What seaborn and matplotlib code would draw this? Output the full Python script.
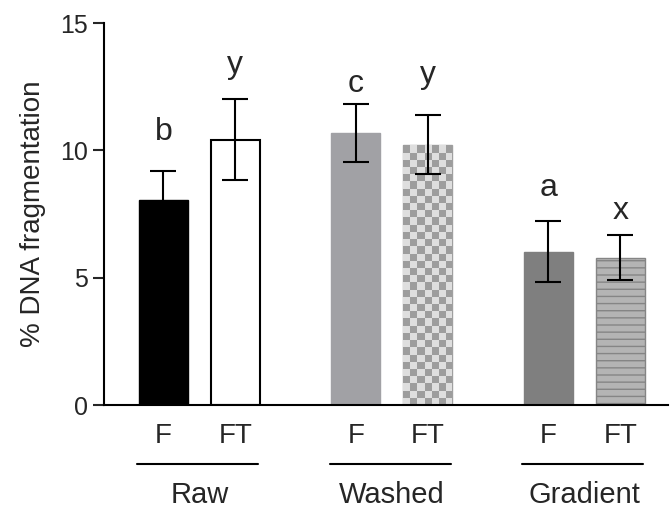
import warnings
import numpy as np
import pandas as pd
import matplotlib
matplotlib.use("Agg")
import matplotlib.pyplot as plt
import matplotlib.hatch as mhatch
import matplotlib.transforms as mtrans
from matplotlib.colors import ListedColormap
from matplotlib.path import Path
import seaborn as sns

warnings.filterwarnings("ignore")

groups = ["Raw", "Washed", "Gradient"]
treatments = ["F", "FT"]
means_f = [8.05, 10.68, 6.02]
means_ft = [10.42, 10.23, 5.79]
sem_f = [1.13, 1.15, 1.19]
sem_ft = [1.58, 1.17, 0.90]
letters_f = ["b", "c", "a"]
letters_ft = ["y", "y", "x"]
ylabel = "% DNA fragmentation"


# custom hatch 'h' = fine horizontal lines (14 per hatch cell)
class FineLines(mhatch.HatchPatternBase):
    def __init__(self, hatch, density):
        self.lines = 14 if "h" in hatch else 0
        self.num_vertices = 2 * self.lines

    def set_vertices_and_codes(self, vertices, codes):
        for i in range(self.lines):
            y = (i + 0.5) / self.lines
            vertices[2 * i:2 * i + 2] = [[0, y], [1, y]]
            codes[2 * i:2 * i + 2] = [Path.MOVETO, Path.LINETO]


mhatch._hatch_types.append(FineLines)

rows = []
for g, mf, mft in zip(groups, means_f, means_ft):
    rows.append({"group": g, "treatment": "F", "value": mf})
    rows.append({"group": g, "treatment": "FT", "value": mft})
df = pd.DataFrame(rows)

sns.set_style("ticks")
plt.rcParams["font.family"] = ["Liberation Sans", "DejaVu Sans"]

fig = plt.figure(figsize=(6.7, 5.13), dpi=100)
ax = fig.add_axes([0.1552, 0.2105, 0.8418, 0.7446])

sns.barplot(data=df, x="group", y="value", hue="treatment", order=groups,
            hue_order=treatments, width=0.748, gap=0.32, errorbar=None,
            legend=False, ax=ax)

styles = [
    dict(fc="black", ec="black", lw=1.0, hatch=None),
    dict(fc="white", ec="black", lw=1.5, hatch=None),
    dict(fc="#a1a1a5", ec="#a1a1a5", lw=1.0, hatch=None),
    dict(fc="#dedede", ec="#a0a0a0", lw=1.0, hatch="checker"),
    dict(fc="#7f7f7f", ec="#7f7f7f", lw=1.0, hatch=None),
    dict(fc="#b4b4b4", ec="#858585", lw=1.0, hatch="h"),
]

ax.set_xlim(-0.496, 2.434)
ax.set_ylim(0, 15)

bars = sorted(ax.patches, key=lambda p: p.get_x())
sems = [v for pair in zip(sem_f, sem_ft) for v in pair]
letters = [v for pair in zip(letters_f, letters_ft) for v in pair]
letter_y = [10.41, 13.04, 12.31, 12.64, 8.22, 7.31]

# pixel size of one data unit, for the checkerboard texture
o = ax.transData.transform((0, 0))
px_x = ax.transData.transform((1, 0))[0] - o[0]
px_y = ax.transData.transform((0, 1))[1] - o[1]
sq = 7.2

centers = []
for p, st in zip(bars, styles):
    p.set_facecolor(st["fc"])
    p.set_edgecolor(st["ec"])
    p.set_linewidth(st["lw"])
    if st["hatch"] == "checker":
        x0, w, h = p.get_x(), p.get_width(), p.get_height()
        sx, sy = sq / px_x, sq / px_y
        nx, ny = int(np.ceil(w / sx)), int(np.ceil(h / sy))
        tex = np.add.outer(np.arange(ny), np.arange(nx)) % 2
        im = ax.imshow(tex, cmap=ListedColormap(["#dedede", "#9d9d9d"]),
                       extent=(x0, x0 + nx * sx, 0, ny * sy), origin="lower",
                       interpolation="nearest", aspect="auto",
                       zorder=p.get_zorder() + 0.1)
        im.set_clip_path(p)
    elif st["hatch"]:
        p.set_hatch(st["hatch"])
    centers.append(p.get_x() + p.get_width() / 2)

heights = [p.get_height() for p in bars]
ax.errorbar(centers, heights, yerr=sems, fmt="none", ecolor="black",
            elinewidth=1.5, capsize=9.2, capthick=1.5, zorder=5)

for x, y, t in zip(centers, letter_y, letters):
    ax.text(x, y, t, ha="center", va="baseline", fontsize=23)

ax.set_xlim(-0.496, 2.434)
ax.set_ylim(0, 15)
ax.set_yticks([0, 5, 10, 15])
ax.set_xticks(centers, [t for _ in groups for t in treatments])
ax.tick_params(axis="x", length=0, pad=13, labelsize=20)
ax.tick_params(axis="y", length=8, width=1.5, pad=3.5, labelsize=18)
ax.set_xlabel("")
ax.set_ylabel(ylabel, fontsize=20, labelpad=10)
for s in ["top", "right"]:
    ax.spines[s].set_visible(False)
for s in ["left", "bottom"]:
    ax.spines[s].set_linewidth(1.5)
    ax.spines[s].set_color("black")

trans = mtrans.blended_transform_factory(ax.transData, ax.transAxes)
for i, g in enumerate(groups):
    left = bars[2 * i].get_x() - 0.01
    right = bars[2 * i + 1].get_x() + bars[2 * i + 1].get_width() - 0.01
    ax.plot([left, right], [-0.1545, -0.1545], color="black", lw=1.5,
            transform=trans, clip_on=False)
    ax.text(i, -0.2565, g, ha="center", va="baseline", fontsize=21,
            transform=trans)

fig.savefig("out.png", dpi=100)
